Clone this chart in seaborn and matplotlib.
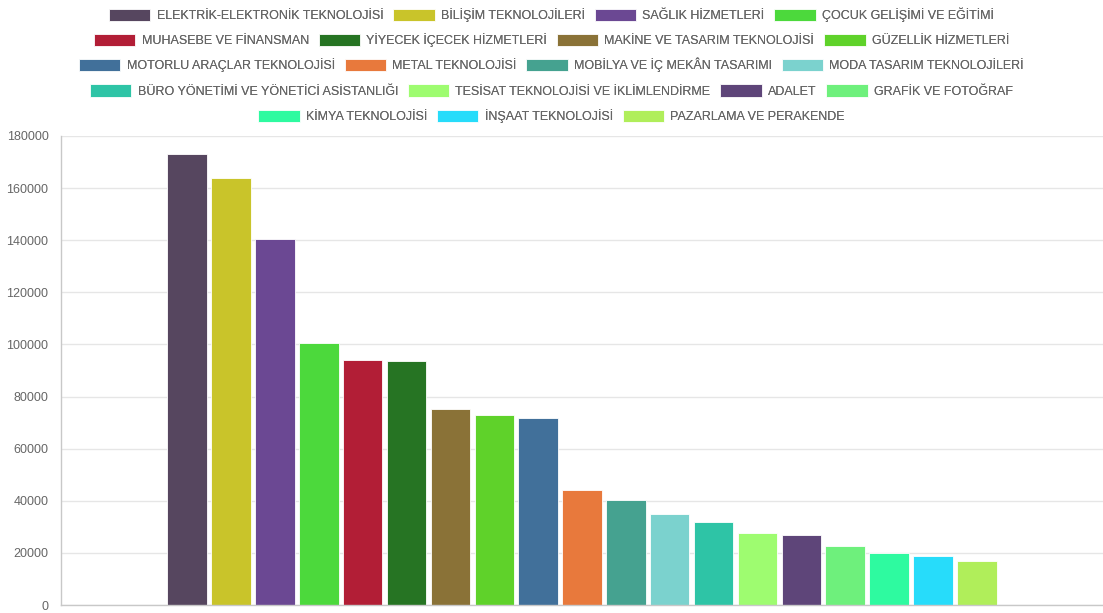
import matplotlib
matplotlib.use("Agg")
import matplotlib.pyplot as plt
import seaborn as sns
import pandas as pd

# ─── Data ───────────────────────────────────────────────────
programs = [
    "ELEKTRİK-ELEKTRONİK TEKNOLOJİSİ", "BİLİŞİM TEKNOLOJİLERİ",
    "SAĞLIK HİZMETLERİ", "ÇOCUK GELİŞİMİ VE EĞİTİMİ",
    "MUHASEBE VE FİNANSMAN", "YİYECEK İÇECEK HİZMETLERİ",
    "MAKİNE VE TASARIM TEKNOLOJİSİ", "GÜZELLİK HİZMETLERİ",
    "MOTORLU ARAÇLAR TEKNOLOJİSİ", "METAL TEKNOLOJİSİ",
    "MOBİLYA VE İÇ MEKÂN TASARIMI", "MODA TASARIM TEKNOLOJİLERİ",
    "BÜRO YÖNETİMİ VE YÖNETİCİ ASİSTANLIĞI", "TESİSAT TEKNOLOJİSİ VE İKLİMLENDİRME",
    "ADALET", "GRAFİK VE FOTOĞRAF",
    "KİMYA TEKNOLOJİSİ", "İNŞAAT TEKNOLOJİSİ", "PAZARLAMA VE PERAKENDE",
]
students = [
    173100, 163900, 140400, 100500, 94000, 93600, 75200, 73000, 71800,
    44100, 40200, 34900, 32000, 27500, 26900, 22800, 20000, 18900, 16800,
]
colors = [
    "#56465f", "#c9c42a", "#6b4893", "#4cd93c", "#b21e36", "#267423",
    "#8a7237", "#5fd22a", "#41709a", "#e8793c", "#45a290", "#7bd2ce",
    "#2ec4a6", "#9efc70", "#5e4579", "#6ef07c", "#2efaa0", "#27dcfa",
    "#b0ee5a",
]
legend_rows = [4, 4, 4, 4, 3]
yticks = list(range(0, 180001, 20000))

df = pd.DataFrame({"group": [""] * len(programs), "program": programs, "students": students})

sns.set_style("white")
plt.rcParams["font.family"] = ["Liberation Sans", "DejaVu Sans"]

fig = plt.figure(figsize=(11.03, 6.13), dpi=100)
ax = fig.add_axes([61 / 1103, 8 / 613, 1042 / 1103, 469 / 613])

sns.barplot(
    data=df, x="group", y="students", hue="program",
    hue_order=programs, palette=colors, gap=0.1, saturation=1,
    edgecolor="#ffffff", linewidth=0.6, ax=ax,
)

handles, labels = ax.get_legend_handles_labels()
ax.get_legend().remove()

ax.set_ylim(0, 180000)
ax.set_yticks(yticks)
ax.set_yticklabels([str(t) for t in yticks])
ax.set_xlim(-0.5, 0.5)
ax.set_xlabel("")
ax.set_ylabel("")
ax.set_xticks([])
ax.grid(axis="y", color="#e6e6e6", linewidth=1)
ax.set_axisbelow(True)
for side in ["top", "right"]:
    ax.spines[side].set_visible(False)
for side in ["left", "bottom"]:
    ax.spines[side].set_color("#c8c8c8")
    ax.spines[side].set_linewidth(1)
ax.tick_params(axis="y", length=6, width=1, color="#e6e6e6", pad=3,
               labelsize=9, labelcolor="#666666")

# legend: one centered row per line, like the reference flow layout
row_y = [15, 40, 65, 91, 116]
start = 0
for n, y in zip(legend_rows, row_y):
    leg = fig.legend(
        handles[start:start + n], labels[start:start + n],
        loc="center", bbox_to_anchor=(0.5, 1 - y / 613), ncol=n,
        frameon=False, fontsize=9, handlelength=3.3, handleheight=1.15,
        handletextpad=0.5, columnspacing=0.8, borderpad=0,
    )
    for t in leg.get_texts():
        t.set_color("#666666")
    fig.add_artist(leg)
    start += n

fig.savefig("out.png", dpi=100)
